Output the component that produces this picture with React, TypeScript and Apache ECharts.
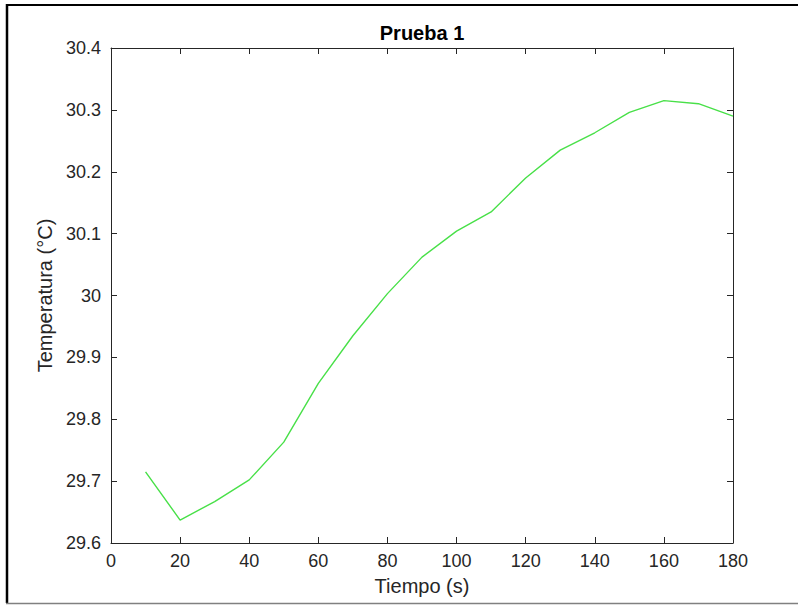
import React, { useEffect, useRef } from "react";
import * as echarts from "echarts";

const titleText = "Prueba 1";
const xAxisName = "Tiempo (s)";
const yAxisName = "Temperatura (°C)";
const timeValues = [10, 20, 30, 40, 50, 60, 70, 80, 90, 100, 110, 120, 130, 140, 150, 160, 170, 180];
const tempValues = [
  29.715, 29.637, 29.667, 29.702, 29.763, 29.858, 29.935, 30.003, 30.062, 30.104, 30.135, 30.19,
  30.235, 30.263, 30.296, 30.315, 30.31, 30.29,
];
const xMin = 0;
const xMax = 180;
const xStep = 20;
const yMin = 29.6;
const yMax = 30.4;
const yStep = 0.1;

const FONT = "'Liberation Sans', Arial, Helvetica, sans-serif";
const AX = "#262626";

export default function App() {
  const ref = useRef<HTMLDivElement>(null);
  useEffect(() => {
    if (!ref.current) return;
    const chart = echarts.init(ref.current, undefined, { renderer: "svg" });
    const seriesData = timeValues.map((t, i) => [t, tempValues[i]]);
    const tick = { show: true, inside: true, length: 6, lineStyle: { color: AX, width: 1 } };
    const line = { show: true, onZero: false, lineStyle: { color: AX, width: 1 } };
    chart.setOption({
      animation: false,
      backgroundColor: "#ffffff",
      textStyle: { fontFamily: FONT },
      grid: { left: 111, right: 65, top: 48, bottom: 62, containLabel: false },
      xAxis: [
        {
          type: "value",
          min: xMin,
          max: xMax,
          interval: xStep,
          position: "bottom",
          axisLine: line,
          axisTick: tick,
          splitLine: { show: false },
          axisLabel: { color: AX, fontSize: 18, fontFamily: FONT, margin: 9 },
          name: xAxisName,
          nameLocation: "middle",
          nameGap: 33,
          nameTextStyle: { color: AX, fontSize: 20, fontFamily: FONT },
        },
        {
          type: "value",
          min: xMin,
          max: xMax,
          interval: xStep,
          position: "top",
          axisLine: line,
          axisTick: tick,
          splitLine: { show: false },
          axisLabel: { show: false },
        },
      ],
      yAxis: [
        {
          type: "value",
          min: yMin,
          max: yMax,
          interval: yStep,
          position: "left",
          axisLine: line,
          axisTick: tick,
          splitLine: { show: false },
          axisLabel: { color: AX, fontSize: 18, fontFamily: FONT, margin: 10 },
          name: yAxisName,
          nameLocation: "middle",
          nameGap: 53,
          nameTextStyle: { color: AX, fontSize: 20, fontFamily: FONT },
        },
        {
          type: "value",
          min: yMin,
          max: yMax,
          interval: yStep,
          position: "right",
          axisLine: line,
          axisTick: tick,
          splitLine: { show: false },
          axisLabel: { show: false },
        },
      ],
      series: [
        {
          type: "line",
          data: seriesData,
          xAxisIndex: 0,
          yAxisIndex: 0,
          showSymbol: false,
          symbol: "none",
          lineStyle: { color: "#48e048", width: 1.4 },
        },
      ],
      graphic: [
        {
          type: "text",
          x: 422,
          y: 43,
          style: {
            text: titleText,
            fontSize: 20,
            fontWeight: "bold",
            fontFamily: FONT,
            fill: "#000000",
            textAlign: "center",
            textVerticalAlign: "bottom",
          },
        },
        { type: "line", shape: { x1: 6, y1: 5, x2: 798, y2: 5 }, style: { stroke: "#000", lineWidth: 2.2 } },
        { type: "line", shape: { x1: 7, y1: 4, x2: 7, y2: 603 }, style: { stroke: "#000", lineWidth: 2.5 } },
        { type: "line", shape: { x1: 6, y1: 603.5, x2: 798, y2: 603.5 }, style: { stroke: "#808080", lineWidth: 1.5 } },
      ],
    });
    return () => chart.dispose();
  }, []);
  return <div ref={ref} style={{ position: "absolute", left: 0, top: 0, width: 798, height: 605 }} />;
}
